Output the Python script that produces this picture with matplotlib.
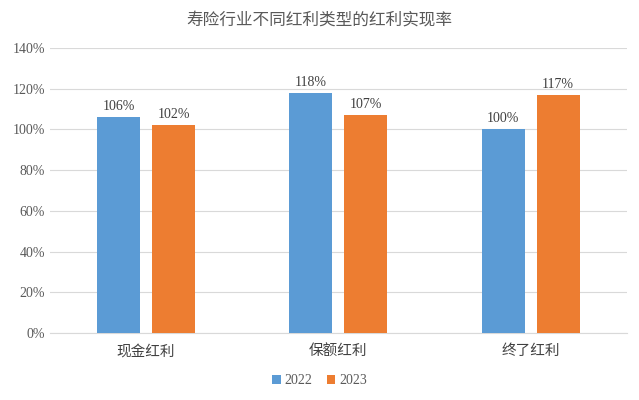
import numpy as np
import matplotlib.pyplot as plt

categories = ['现金红利', '保额红利', '终了红利']
years = ['2022', '2023']
values_2022 = [106, 118, 100]
values_2023 = [102, 107, 117]
yticks = [0, 20, 40, 60, 80, 100, 120, 140]

cjk = ['Noto Sans CJK SC', 'DejaVu Sans']
serif = ['Liberation Serif', 'DejaVu Serif']

fig = plt.figure(figsize=(6.39, 4.0), dpi=100)
ax = fig.add_axes([0.078, 0.1675, 0.903, 0.7125])

x = np.arange(len(categories))
w = 0.224
off = 0.143
b1 = ax.bar(x - off, values_2022, w, color='#5B9BD5', label=years[0], zorder=3)
b2 = ax.bar(x + off, values_2023, w, color='#ED7D31', label=years[1], zorder=3)

for bars in (b1, b2):
    for r in bars:
        ax.text(r.get_x() + r.get_width() / 2, r.get_height() + 2, f'{r.get_height():.0f}%',
                ha='center', va='bottom', fontsize=10, family=serif, color='#404040')

ax.set_xlim(-0.5, 2.5)
ax.set_ylim(0, 140)
ax.set_yticks(yticks)
ax.set_yticklabels([f'{t}%' for t in yticks], family=serif, fontsize=10, color='#595959')
ax.set_xticks(x)
ax.set_xticklabels(categories, family=cjk, fontsize=10.5, color='#404040')
ax.tick_params(length=0)
ax.tick_params(axis='x', pad=8)
ax.grid(axis='y', color='#D9D9D9', linewidth=0.8, zorder=0)
for s in ['top', 'right', 'left']:
    ax.spines[s].set_visible(False)
ax.spines['bottom'].set_color('#D9D9D9')

fig.suptitle('寿险行业不同红利类型的红利实现率', family=cjk, fontsize=12, color='#595959', y=0.97)
leg = fig.legend(loc='lower center', bbox_to_anchor=(0.5, 0.0), ncol=2, frameon=False,
                 prop={'family': serif, 'size': 10}, handlelength=0.6, handleheight=0.6,
                 columnspacing=1.0, handletextpad=0.3)
for t in leg.get_texts():
    t.set_color('#595959')

fig.savefig('out.png', dpi=100)
